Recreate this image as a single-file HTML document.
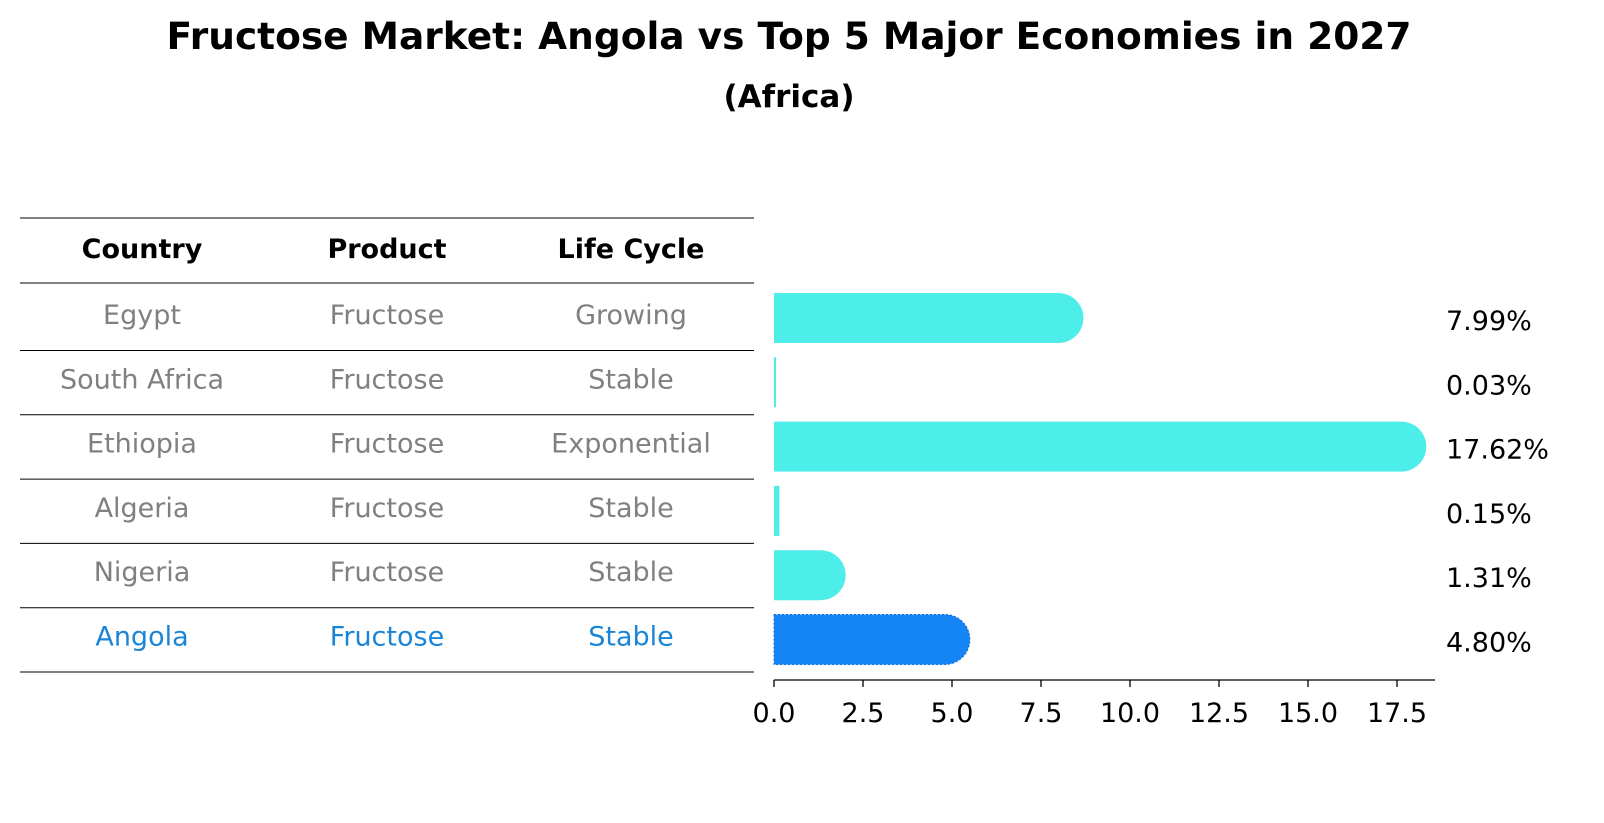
<!DOCTYPE html>
<html><head><meta charset="utf-8"><style>
body{margin:0;background:#fff;font-family:"DejaVu Sans","Liberation Sans",sans-serif}
#wrap{position:relative;width:1604px;height:823px;overflow:hidden}
</style></head><body>
<div id="wrap">
<svg id="svg" width="1604" height="823" xmlns="http://www.w3.org/2000/svg" style="font-family:'DejaVu Sans','Liberation Sans',sans-serif">
<text x="789" y="49" text-anchor="middle" font-size="37.5" font-weight="bold">Fructose Market: Angola vs Top 5 Major Economies in 2027</text>
<text x="789" y="107" text-anchor="middle" font-size="31" font-weight="bold">(Africa)</text>
<g id="table"></g>
<g id="bars"></g>
</svg>
</div>
<script>
const countries=["Egypt","South Africa","Ethiopia","Algeria","Nigeria","Angola"];
const products=["Fructose","Fructose","Fructose","Fructose","Fructose","Fructose"];
const lifeCycles=["Growing","Stable","Exponential","Stable","Stable","Stable"];
const values=[7.99,0.03,17.62,0.15,1.31,4.80];
const tickLabels=["0.0","2.5","5.0","7.5","10.0","12.5","15.0","17.5"];
const tickValues=[0,2.5,5,7.5,10,12.5,15,17.5];
const highlight="Angola";

const NS="http://www.w3.org/2000/svg";
const X0=774, PX=35.6;
const xs=v=>X0+v*PX;
const rowY=i=>318+i*64.3;
function mk(tag,attrs,parent){const e=document.createElementNS(NS,tag);for(const k in attrs)e.setAttribute(k,attrs[k]);parent.appendChild(e);return e;}
const tbl=document.getElementById('table'), bars=document.getElementById('bars');
const colX=[142,387,631];
const FS=27;
const lineYs=[218,283];
for(let i=0;i<countries.length;i++)lineYs.push(rowY(i)+32.5);
lineYs.forEach((y,i)=>{const l=mk('line',{x1:20,x2:754,y1:y,y2:y,stroke:'#000','stroke-width':1},tbl);

});
["Country","Product","Life Cycle"].forEach((h,j)=>{const t=mk('text',{x:colX[j],y:258,'text-anchor':'middle','font-size':FS,'font-weight':'bold'},tbl);t.textContent=h;

});
countries.forEach((c,i)=>{const col=c===highlight?'#1a85d6':'#808080';
[c,products[i],lifeCycles[i]].forEach((s,j)=>{const t=mk('text',{x:colX[j],y:rowY(i)+6,'text-anchor':'middle','font-size':FS,fill:col},tbl);t.textContent=s;

});
const h=50,r=25,y=rowY(i)-h/2,xe=xs(values[i]);
const fill=c===highlight?'#1585f5':'#4deeea';
let d;
const w=xe-X0;
if(w<r){const ww=Math.max(w,2);d=`M${X0},${y}h${ww}v${h}h${-ww}z`;}
else{d=`M${X0},${y}H${xe}A${r},${r} 0 0 1 ${xe},${y+h}H${X0}Z`;}
const p=mk('path',{d:d,fill:fill},bars);
if(c===highlight){p.setAttribute('stroke','#0d6fd6');p.setAttribute('stroke-dasharray','2,2');p.setAttribute('stroke-width','1');}


const vt=mk('text',{x:1446,y:rowY(i)+12,'font-size':FS},bars);vt.textContent=values[i].toFixed(2)+'%';


});
const ax=mk('line',{x1:X0,x2:1435,y1:680,y2:680,stroke:'#000','stroke-width':1.3},bars);


tickValues.forEach((v,i)=>{mk('line',{x1:xs(v),x2:xs(v),y1:680,y2:687,stroke:'#000','stroke-width':1.3},bars);
const t=mk('text',{x:xs(v),y:722,'text-anchor':'middle','font-size':FS},bars);t.textContent=tickLabels[i];

});
</script>
</body></html>
